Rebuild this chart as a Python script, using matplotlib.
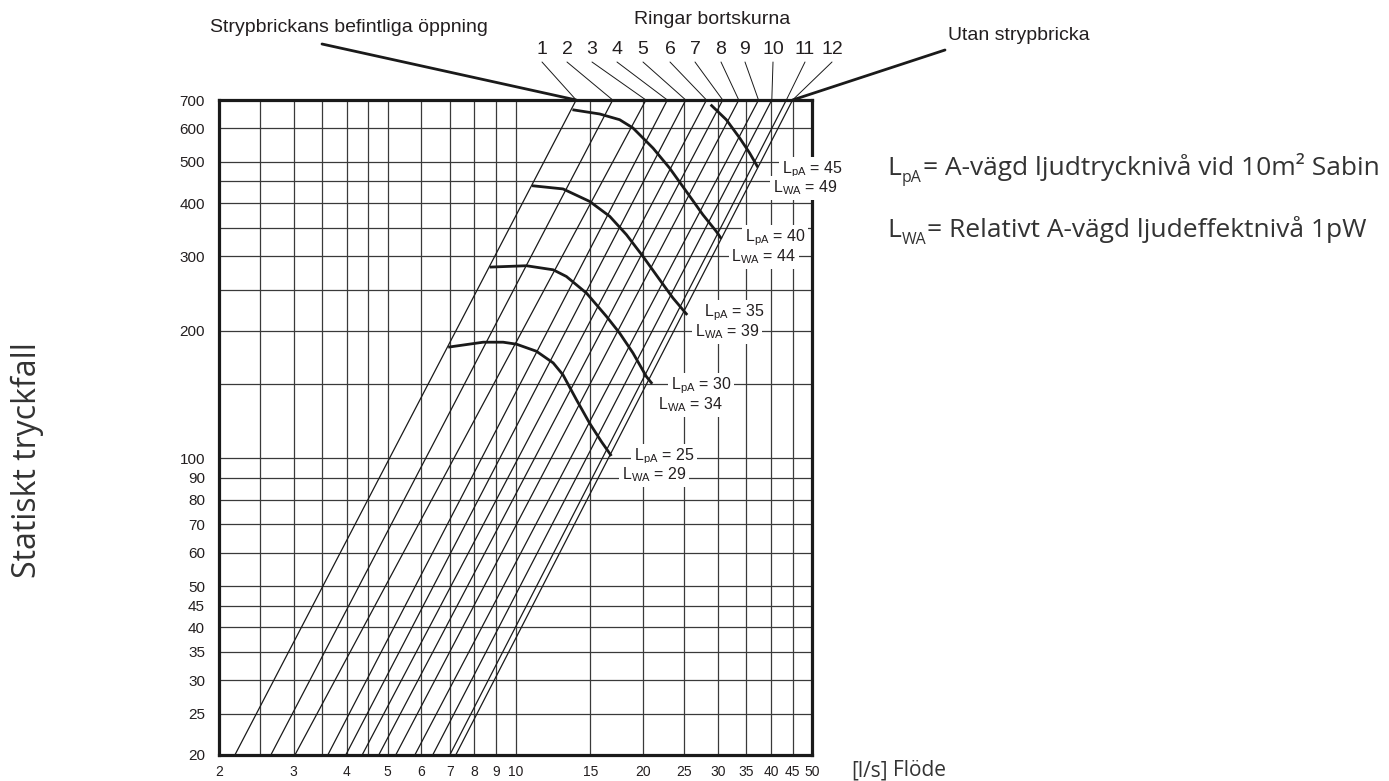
import numpy as np
import matplotlib
matplotlib.use('Agg')
import matplotlib.pyplot as plt

# ---------------- data ----------------
x_major = [2, 3, 4, 5, 6, 7, 8, 9, 10, 15, 20, 25, 30, 35, 40, 45, 50]
x_minor = [2.5, 3.5, 4.5]
y_major = [20, 25, 30, 35, 40, 45, 50, 60, 70, 80, 90, 100, 200, 300, 400, 500, 600, 700]
y_minor = [150, 250, 350, 450]

ring_labels = ['1', '2', '3', '4', '5', '6', '7', '8', '9', '10', '11', '12']
# flow [l/s] where each characteristic line crosses 20 Pa and 700 Pa
q_at_20 = [2.18, 2.65, 3.02, 3.61, 3.98, 4.35, 4.76, 5.22, 5.79, 6.38, 7.00, 7.23]
q_at_700 = [13.9, 16.95, 20.3, 22.8, 25.2, 28.2, 30.8, 33.6, 37.4, 40.2, 43.5, 45.0]
p_lo, p_hi = 20, 700

# sound level curves (flow, pressure)
lpa25_q = [6.94, 8.39, 9.35, 10.05, 11.2, 12.27, 12.94, 13.92, 14.96, 15.94, 16.83]
lpa25_p = [183, 188, 188, 186, 179, 168, 157.5, 137.6, 121, 109.6, 101.4]
lpa30_q = [8.69, 10.61, 12.27, 13.18, 14.7, 16.38, 17.6, 18.92, 20.35, 21.0]
lpa30_p = [282.6, 284.7, 278.5, 268.6, 245.4, 216.3, 197.5, 177.3, 156, 150]
lpa35_q = [10.94, 12.94, 14.96, 16.68, 18.26, 19.98, 21.88, 23.51, 25.4]
lpa35_p = [439.6, 432, 403.6, 372.2, 337, 299.4, 263.8, 238.9, 218]
lpa40_q = [13.62, 15.8, 17.6, 18.92, 21.1, 23.08, 25.28, 27.66, 29.74, 30.57]
lpa40_p = [664, 648.8, 629, 601.4, 539, 483.8, 426, 375.4, 343, 329.6]
lpa45_q = [28.84, 31.4, 33.76, 35.64, 37.28]
lpa45_p = [682.6, 629, 569.7, 525, 485.5]

lpa_values = [25, 30, 35, 40, 45]
lwa_values = [29, 34, 39, 44, 49]

# ---------------- figure ----------------
W, H = 1389, 781
plt.rcParams['font.family'] = ['Liberation Sans', 'DejaVu Sans']
plt.rcParams['mathtext.fontset'] = 'custom'
plt.rcParams['mathtext.rm'] = 'Liberation Sans'
plt.rcParams['mathtext.it'] = 'Liberation Sans:italic'
plt.rcParams['mathtext.bf'] = 'Liberation Sans:bold'
plt.rcParams['mathtext.default'] = 'regular'

fig = plt.figure(figsize=(W / 100, H / 100), dpi=100)
fig.patch.set_facecolor('white')


def P(x, y):
    return (x / W, 1 - y / H)


ax = fig.add_axes([219 / W, 1 - 755 / H, (812 - 219) / W, (755 - 100) / H])
ax.set_xscale('log')
ax.set_yscale('log')
ax.set_xlim(2, 50)
ax.set_ylim(20, 700)

ax.xaxis.set_major_locator(matplotlib.ticker.FixedLocator(x_major))
ax.xaxis.set_minor_locator(matplotlib.ticker.FixedLocator(x_minor))
ax.yaxis.set_major_locator(matplotlib.ticker.FixedLocator(y_major))
ax.yaxis.set_minor_locator(matplotlib.ticker.FixedLocator(y_minor))
ax.xaxis.set_major_formatter(matplotlib.ticker.FixedFormatter([str(v) for v in x_major]))
ax.yaxis.set_major_formatter(matplotlib.ticker.FixedFormatter([str(v) for v in y_major]))
ax.xaxis.set_minor_formatter(matplotlib.ticker.NullFormatter())
ax.yaxis.set_minor_formatter(matplotlib.ticker.NullFormatter())
ax.tick_params(axis='both', which='both', length=0)
ax.tick_params(axis='x', labelsize=10, pad=7, colors='#231f20')
ax.tick_params(axis='y', labelsize=11, pad=10, colors='#231f20')

ax.grid(True, which='both', color='#3a3a3a', linewidth=0.9)
ax.set_axisbelow(True)
for s in ax.spines.values():
    s.set_linewidth(2.3)
    s.set_color('#1a1a1a')

# characteristic lines
for q1, q2 in zip(q_at_20, q_at_700):
    ax.plot([q1, q2], [p_lo, p_hi], color='#1a1a1a', lw=0.9, zorder=2)

# sound curves
for qs, ps in [(lpa25_q, lpa25_p), (lpa30_q, lpa30_p), (lpa35_q, lpa35_p),
               (lpa40_q, lpa40_p), (lpa45_q, lpa45_p)]:
    ax.plot(qs, ps, color='#1a1a1a', lw=2.0, zorder=3, solid_capstyle='butt')

# sound labels (pixel positions of centres)
lpa_pos = [(664, 457), (701, 386), (734, 313), (775, 238), (812, 170)]
lwa_pos = [(654, 475), (691, 405), (727, 332), (764, 257), (805, 188)]
box = dict(facecolor='white', edgecolor='none', pad=2.0)
for v, (x, y) in zip(lpa_values, lpa_pos):
    fig.text(*P(x, y), r'L$_{pA}$ = %d' % v, ha='center', va='center', fontsize=11.5,
             color='#231f20', bbox=box, zorder=10)
for v, (x, y) in zip(lwa_values, lwa_pos):
    fig.text(*P(x, y), r'L$_{WA}$ = %d' % v, ha='center', va='center', fontsize=11.5,
             color='#231f20', bbox=box, zorder=10)

# ---------------- top annotations ----------------
fig.text(*P(349, 28), 'Strypbrickans befintliga öppning', ha='center', va='center',
         fontsize=14, color='#231f20')
fig.text(*P(712, 20), 'Ringar bortskurna', ha='center', va='center',
         fontsize=14, color='#231f20')
fig.text(*P(1019, 35), 'Utan strypbricka', ha='center', va='center',
         fontsize=14, color='#231f20')

ring_x = [542, 567, 592, 617, 643, 670, 695, 721, 745, 773, 805, 832]
for lab, xx, qtop in zip(ring_labels, ring_x, q_at_700):
    fig.text(*P(xx, 50), lab, ha='center', va='center', fontsize=14, color='#231f20')
    ax.annotate('', xy=(qtop, p_hi), xycoords='data',
                xytext=P(xx, 62), textcoords='figure fraction',
                arrowprops=dict(arrowstyle='-', color='#1a1a1a', lw=0.7,
                                shrinkA=0, shrinkB=0), annotation_clip=False)

ax.annotate('', xy=(q_at_700[0], p_hi), xycoords='data',
            xytext=P(322, 44), textcoords='figure fraction',
            arrowprops=dict(arrowstyle='-', color='#1a1a1a', lw=2.0,
                            shrinkA=0, shrinkB=0), annotation_clip=False)
ax.annotate('', xy=(q_at_700[-1], p_hi), xycoords='data',
            xytext=P(945, 50), textcoords='figure fraction',
            arrowprops=dict(arrowstyle='-', color='#1a1a1a', lw=2.0,
                            shrinkA=0, shrinkB=0), annotation_clip=False)

# ---------------- outer labels ----------------
fig.text(*P(27, 460), 'Statiskt tryckfall', rotation=90, ha='center', va='center',
         fontsize=23, family='Open Sans', color='#333333')
fig.text(*P(851, 776), '[l/s]', ha='left', va='baseline', fontsize=15,
         family='Open Sans', color='#333333')
fig.text(*P(893, 776), 'Flöde', ha='left', va='baseline', fontsize=15,
         family='Open Sans', color='#333333')

# legend lines with manual subscripts
renderer = fig.canvas.get_renderer()


def sub_line(x, y, sub, rest, fs=19):
    t1 = fig.text(*P(x, y), 'L', ha='left', va='baseline', fontsize=fs,
                  family='Open Sans', color='#333333')
    bb = t1.get_window_extent(renderer)
    xs = bb.x1 + 1
    t2 = fig.text(xs / W, (H - y - 7) / H, sub, ha='left', va='baseline',
                  fontsize=fs * 0.6, family='Open Sans', color='#333333')
    bb2 = t2.get_window_extent(renderer)
    fig.text((bb2.x1 + 1) / W, (H - y) / H, rest, ha='left', va='baseline',
             fontsize=fs, family='Open Sans', color='#333333')


sub_line(887, 175, 'pA', '= A-vägd ljudtrycknivå vid 10m² Sabin')
sub_line(887, 237, 'WA', '= Relativt A-vägd ljudeffektnivå 1pW')

fig.savefig('out.png', dpi=100, facecolor='white')
